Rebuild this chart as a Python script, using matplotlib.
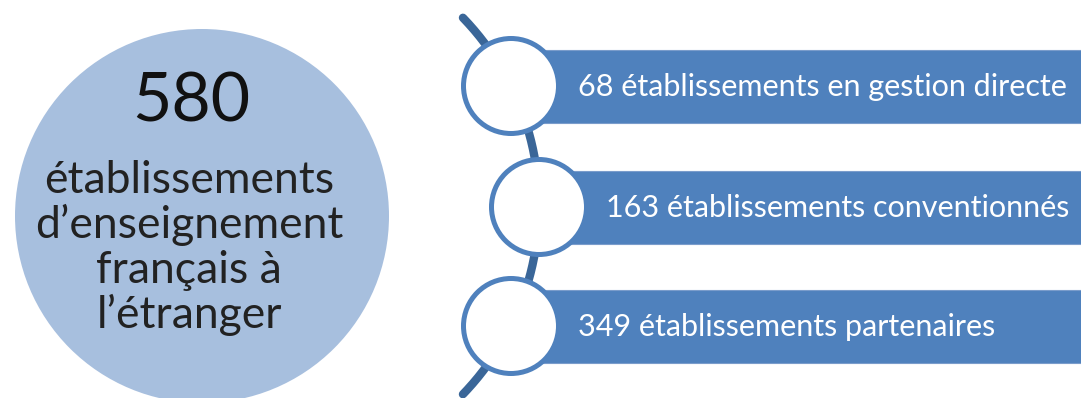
import numpy as np
import matplotlib.pyplot as plt
from matplotlib.patches import Circle, Rectangle

plt.rcParams['font.family'] = ['Lato', 'DejaVu Sans']

# data
total = 580
total_label = "établissements\nd’enseignement\nfrançais à\nl’étranger"
counts = [68, 163, 349]
kinds = ["établissements en gestion directe",
         "établissements conventionnés",
         "établissements partenaires"]

W, H = 1081, 398
fig = plt.figure(figsize=(W / 100, H / 100), dpi=100)
ax = fig.add_axes([0, 0, 1, 1])
ax.set_xlim(0, W)
ax.set_ylim(H, 0)
ax.set_aspect('equal')
ax.axis('off')

blue = '#4F81BD'
dark = '#3A6698'
light = '#A7BFDE'

# big circle on the left
ax.add_patch(Circle((202, 216), 187, facecolor=light, edgecolor='none', zorder=1))
ax.text(191, 102, str(total), fontsize=49, ha='center', va='center', color='#111111')
ax.text(189, 248, total_label, fontsize=32, ha='center', va='center',
        color='#222222', linespacing=1.1)

# arc linking the three items
t = np.radians(np.linspace(-44, 44, 200))
ax.plot(268 + 271 * np.cos(t), 206 + 271 * np.sin(t), color=dark, lw=6,
        solid_capstyle='round', zorder=2)

# items
ys = [86, 207, 326]
xs = [511, 539, 511]
for x, y, n, k in zip(xs, ys, counts, kinds):
    ax.add_patch(Rectangle((x, y - 36.5), W - x + 5, 73, facecolor=blue,
                           edgecolor='#7A9CCB', lw=0.8, zorder=3))
    ax.add_patch(Circle((x, y), 47.5, facecolor='white', edgecolor=blue, lw=3.6, zorder=4))
    ax.text(x + 67, y + 1, f"{n} {k}", fontsize=22, color='white',
            ha='left', va='center', zorder=5)

fig.savefig('out.png', dpi=100)
